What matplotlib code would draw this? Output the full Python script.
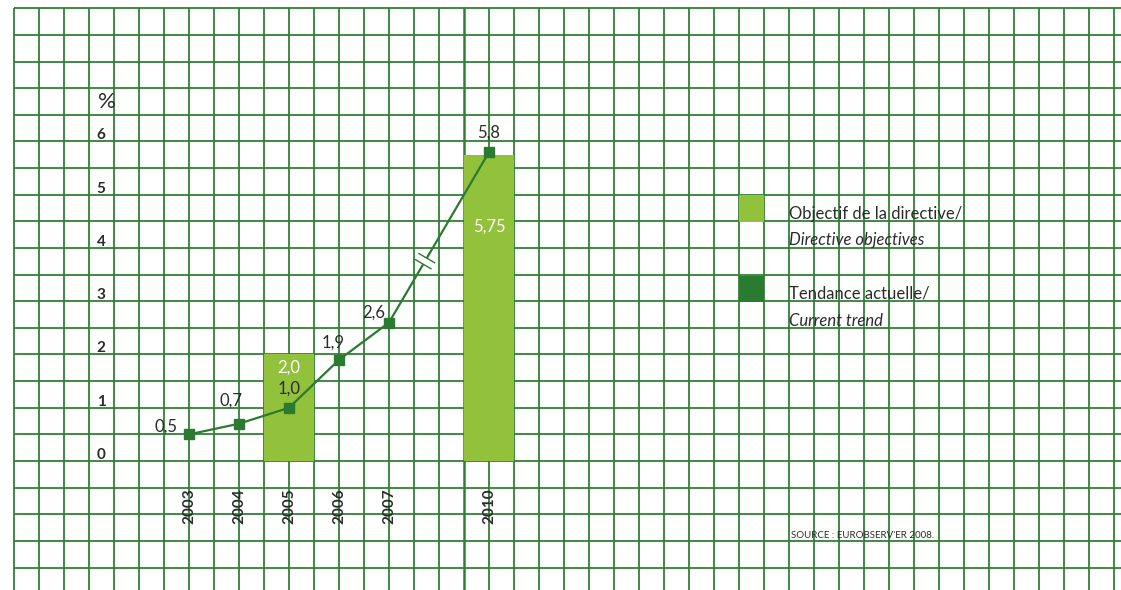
import matplotlib
matplotlib.use("Agg")
import matplotlib.pyplot as plt
from matplotlib.patches import Rectangle
import numpy as np

# ---------------- data ----------------
years = ["2003", "2004", "2005", "2006", "2007", "2010"]
year_pos = [0, 1, 2, 3, 4, 6]            # category slots (2010 after a gap)
trend_values = [0.5, 0.7, 1.0, 1.9, 2.6, 5.8]
trend_labels = ["0,5", "0,7", "1,0", "1,9", "2,6", "5,8"]
objective_years = ["2005", "2010"]
objective_values = [2.0, 5.75]
objective_labels = ["2,0", "5,75"]
yticks = [0, 1, 2, 3, 4, 5, 6]
legend_labels = [("Objectif de la directive/", "Directive objectives"),
                 ("Tendance actuelle/", "Current trend")]
source_text = "Source : EurObserv'ER 2008."

# ---------------- style ----------------
GRID = "#2f8036"
LIGHT = "#92c13b"
DARK = "#2a7a2f"
TXT = "#2b2b2b"
FONT = "Lato"

W, H = 1121, 590
fig = plt.figure(figsize=(W / 100, H / 100), dpi=100)
ax = fig.add_axes([0, 0, 1, 1])
ax.axis("off")

# pixel mapping: x_px = 189 + 50*i ; y_px = 461 - 53.26*v
x0, sx = 189.0, 50.0
y0, sy = 461.0, 53.26
ax.set_xlim((0 - x0) / sx, (W - x0) / sx)
ax.set_ylim((y0 - H) / sy, y0 / sy)

xmin, xmax = ax.get_xlim()
ymin, ymax = ax.get_ylim()

# grid (graph paper)
gtop = 8.5
gleft = -3.5
for gx in np.arange(gleft, 18.51, 0.5):
    lw = 1.8 if abs(gx - 5.5) < 1e-6 else 1.3
    ax.plot([gx, gx], [ymin, gtop], color=GRID, lw=lw, zorder=1,
            solid_capstyle="butt")
for gy in np.arange(-2.0, gtop + 0.01, 0.5):
    ax.plot([gleft, xmax], [gy, gy], color=GRID, lw=1.3, zorder=1,
            solid_capstyle="butt")

# objective bars
bar_x = [year_pos[years.index(y)] for y in objective_years]
ax.bar(bar_x, objective_values, width=1.0, color=LIGHT, zorder=2)
bar_offsets = [-13, -72]
for bx, bv, bl, off in zip(bar_x, objective_values, objective_labels, bar_offsets):
    ax.annotate(bl, (bx, bv), xytext=(0, off), textcoords="offset pixels",
                ha="center", va="center", color="white", fontsize=12,
                family=FONT, zorder=5)

# trend line
ax.plot(year_pos, trend_values, color=DARK, lw=1.6, marker="s",
        markersize=7.5, markerfacecolor=DARK, markeredgecolor=DARK, zorder=4)
label_offsets = [(-23, 8), (-8, 23), (0, 19), (-6, 17), (-15, 10), (0, 19)]
for px, pv, pl, off in zip(year_pos, trend_values, trend_labels, label_offsets):
    ax.annotate(pl, (px, pv), xytext=off, textcoords="offset pixels",
                ha="center", va="center", color=TXT, fontsize=12,
                family=FONT, zorder=5)

# break mark on the segment 2007 -> 2010
fig.canvas.draw()
p1 = ax.transData.transform((year_pos[4], trend_values[4]))
p2 = ax.transData.transform((year_pos[5], trend_values[5]))
d = p2 - p1
u = d / np.hypot(*d)
n = np.array([-u[1], u[0]])
c = p1 + 0.36 * d
inv = ax.transData.inverted()
gap = 3.5
half = 9.0
a = inv.transform(c - u * gap)
b = inv.transform(c + u * gap)
ax.plot([a[0], b[0]], [a[1], b[1]], color="white", lw=3, zorder=4.5,
        solid_capstyle="butt")
for s in (-gap, gap):
    q1 = inv.transform(c + u * s - n * half)
    q2 = inv.transform(c + u * s + n * half)
    ax.plot([q1[0], q2[0]], [q1[1], q2[1]], color=DARK, lw=1.0, zorder=4.6)

# y tick labels
for t in yticks:
    ax.annotate(str(t), ((101 - x0) / sx, t), xytext=(0, 6),
                textcoords="offset pixels", ha="center", va="center",
                color=TXT, fontsize=11, fontweight="bold", family=FONT, zorder=5)
ax.text((107 - x0) / sx, (y0 - 102) / sy, "%", ha="center", va="center",
        color=TXT, fontsize=16, family=FONT, zorder=5)

# year labels
for px, yl in zip(year_pos, years):
    ax.text(px, (y0 - 506) / sy, yl, rotation=90, ha="center", va="center",
            color=TXT, fontsize=11, fontweight="bold", family=FONT, zorder=5)

# legend
leg_colors = [LIGHT, DARK]
leg_top = [195.5, 275.5]
for col, top, (l1, l2) in zip(leg_colors, leg_top, legend_labels):
    ax.add_patch(Rectangle(((739 - x0) / sx, (y0 - top - 26.6) / sy),
                           25 / sx, 26.6 / sy, facecolor=col, edgecolor="none",
                           zorder=3))
    ax.text((789 - x0) / sx, (y0 - top - 18) / sy, l1, ha="left", va="center",
            color=TXT, fontsize=12, family=FONT, zorder=5)
    ax.text((789 - x0) / sx, (y0 - top - 45) / sy, l2, ha="left", va="center",
            color=TXT, fontsize=12, style="italic", family=FONT, zorder=5)

# source
ax.text((791 - x0) / sx, (y0 - 536) / sy, source_text.upper(), ha="left",
        va="center", color=TXT, fontsize=7, family=FONT, zorder=5)

fig.savefig("out.png", dpi=100, facecolor="white")
